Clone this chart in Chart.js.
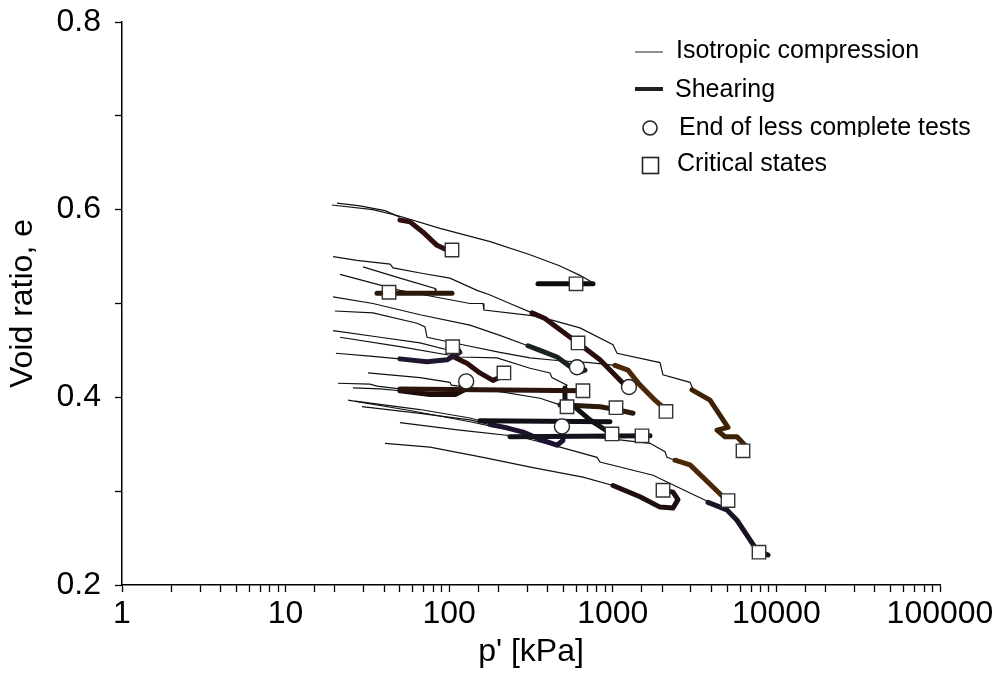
<!DOCTYPE html>
<html>
<head>
<meta charset="utf-8">
<script src="https://cdn.jsdelivr.net/npm/chart.js@4.4.1/dist/chart.umd.min.js"></script>
<style>
  html, body { margin: 0; padding: 0; background: #fff; }
  #wrap { width: 1003px; height: 677px; }
</style>
</head>
<body>
<div id="wrap"><canvas id="voidChart" width="1003" height="677"></canvas></div>
<script>
// axis ticks
const xTicksMajor = [1, 10, 100, 1000, 10000, 100000];
const yTicksLabelled = [0.2, 0.4, 0.6, 0.8];

// isotropic compression curves  [p' kPa, e]
const iso1 = [[20.6,0.607],[28.5,0.604],[40.5,0.599],[50.0,0.592]];
const iso2 = [[19.2,0.605],[34.2,0.600],[50.0,0.593],[87.8,0.580],[178,0.566],[312,0.552],[476,0.540],[630,0.530],[725,0.524],[757,0.521]];
const iso3 = [[19.5,0.550],[27.3,0.546],[43.5,0.542],[45.4,0.538],[69.2,0.532],[101,0.527],[148,0.514],[178,0.509],[235,0.500],[321,0.490]];
const iso4 = [[29.7,0.539],[50.0,0.527],[81.9,0.516],[83.0,0.511]];
const iso5 = [[21.5,0.531],[50.0,0.514],[76.3,0.508],[134,0.500],[161,0.500],[163,0.493],[321,0.487],[431,0.482],[630,0.474],[1003,0.456],[1061,0.447],[1943,0.437],[2027,0.424],[2965,0.416],[3092,0.409]];
const iso6 = [[19.5,0.507],[34.2,0.500],[66.3,0.488],[134,0.477],[204,0.466],[303,0.455]];
const iso7 = [[20.0,0.492],[34.2,0.490],[63.6,0.479],[71.1,0.475],[73.2,0.464],[121,0.456],[204,0.448],[312,0.442],[476,0.439],[725,0.437],[1031,0.434]];
const iso8 = [[19.5,0.471],[37.8,0.464],[66.3,0.458],[101,0.450],[104,0.444]];
const iso9 = [[21.5,0.464],[50.0,0.454],[116,0.443],[196,0.442],[312,0.431],[413,0.426],[425,0.421],[525,0.413],[510,0.410]];
const iso10 = [[20.3,0.447],[32.8,0.444],[50.0,0.441]];
const iso11 = [[31.9,0.426],[66.3,0.421],[101,0.416],[103,0.413],[204,0.406],[359,0.399],[476,0.392]];
const iso12 = [[20.9,0.415],[32.8,0.414],[36.2,0.412],[50.0,0.409]];
const iso13 = [[25.8,0.410],[37.8,0.409],[50.0,0.407]];
const iso14 = [[26.6,0.396],[66.3,0.387],[134,0.378],[154,0.375]];
const iso15 = [[29.3,0.390],[66.3,0.383],[134,0.376],[178,0.371]];
const iso16 = [[24.1,0.397],[57.6,0.386],[134,0.374],[235,0.365],[359,0.359],[835,0.357],[1688,0.351],[2085,0.342],[2145,0.336],[2400,0.333]];
const iso17 = [[50.0,0.373],[116,0.365],[271,0.358],[476,0.347],[801,0.336],[835,0.331],[1761,0.317],[2965,0.298],[3928,0.288]];
const iso18 = [[40.5,0.351],[76.3,0.347],[161,0.336],[325,0.325],[657,0.315],[1003,0.306]];

// shearing paths  [p' kPa, e]
const sh1 = [[50.0,0.589],[57.6,0.587],[69.2,0.576],[84.2,0.562],[97.0,0.557]];
const sh2 = [[349,0.521],[757,0.521]];
const sh3 = [[36.2,0.511],[104,0.511]];
const sh4 = [[321,0.490],[385,0.484],[476,0.472],[613,0.458],[835,0.440],[1187,0.413]];
const sh5 = [[1031,0.434],[1238,0.429],[1467,0.413],[1811,0.397],[2237,0.383]];
const sh6 = [[3049,0.408],[3928,0.397],[5061,0.368],[4335,0.365],[4851,0.358],[5743,0.358],[6428,0.349]];
const sh7 = [[2400,0.333],[2965,0.328],[4717,0.294],[5061,0.289]];
const sh8 = [[3819,0.288],[4990,0.280],[5743,0.269],[7610,0.237],[8885,0.232]];
const sh9 = [[1003,0.306],[1467,0.294],[1943,0.283],[2333,0.282],[2503,0.291],[2333,0.299],[2027,0.301]];
const sh10 = [[303,0.455],[359,0.450],[456,0.443],[547,0.433],[630,0.427],[676,0.429]];
const sh11 = [[50.0,0.441],[73.2,0.438],[97.0,0.440],[116,0.448],[109,0.456]];
const sh12 = [[104,0.444],[129,0.436],[154,0.426],[185,0.418],[213,0.423]];
const sh13 = [[50.0,0.409],[657,0.407]];
const sh14 = [[50.0,0.407],[76.3,0.403],[109,0.403],[130,0.410],[127,0.417]];
const sh15 = [[510,0.410],[510,0.397],[547,0.394],[725,0.376],[961,0.362]];
const sh16 = [[476,0.392],[835,0.390],[1046,0.387],[1329,0.383]];
const sh17 = [[154,0.375],[961,0.374]];
const sh18 = [[235,0.358],[1688,0.359]];
const sh19 = [[178,0.371],[219,0.368],[283,0.363],[374,0.354],[456,0.349],[496,0.354],[489,0.365]];

// end of less complete tests
const endPoints = [[127,0.417],[604,0.432],[1256,0.411],[489,0.369]];

// critical states
const criticalStates = [[104,0.557],[596,0.521],[42.9,0.512],[105,0.454],[216,0.426],[613,0.458],[657,0.407],[525,0.390],[1046,0.389],[2113,0.385],[989,0.361],[1508,0.359],[6250,0.343],[2027,0.301],[5060,0.290],[7830,0.235]];

const isoCurves = [iso1, iso2, iso3, iso4, iso5, iso6, iso7, iso8, iso9, iso10, iso11, iso12, iso13, iso14, iso15, iso16, iso17, iso18];
const shearPaths = [sh1, sh2, sh3, sh4, sh5, sh6, sh7, sh8, sh9, sh10, sh11, sh12, sh13, sh14, sh15, sh16, sh17, sh18, sh19];
const shearColours = ['#2e0e0e', '#0d0d0d', '#2a180a', '#2a0c0c', '#4a2808', '#3e2208', '#4a2808', '#1c1228', '#1e0e0e', '#18221f',
  '#201630', '#2a0e0e', '#2a140c', '#1e0b0b', '#121212', '#2a1a0a', '#101018', '#13131e', '#1e1230'];

const toXY = pts => pts.map(([x, y]) => ({ x: x, y: y }));
const FONT = "'Liberation Sans', Arial, sans-serif";

const datasets = [];
datasets.push({
    label: 'Critical states',
    data: toXY(criticalStates),
    showLine: false,
    pointStyle: 'rect',
    pointRadius: 9.5,
    pointBackgroundColor: '#ffffff',
    pointBorderColor: '#333',
    pointBorderWidth: 1.4,
    order: 0
});
datasets.push({
    label: 'End of less complete tests',
    data: toXY(endPoints),
    showLine: false,
    pointStyle: 'circle',
    pointRadius: 7.5,
    pointBackgroundColor: '#ffffff',
    pointBorderColor: '#222',
    pointBorderWidth: 1.4,
    order: 0
});
shearPaths.forEach((path, i) => {
    datasets.push({
        label: 'Shearing',
        data: toXY(path),
        showLine: true,
        borderColor: shearColours[i],
        borderWidth: 5,
        borderCapStyle: 'round',
        borderJoinStyle: 'round',
        pointRadius: 0,
        order: 1
    });
});
isoCurves.forEach(curve => {
    datasets.push({
        label: 'Isotropic compression',
        data: toXY(curve),
        showLine: true,
        borderColor: '#111',
        borderWidth: 1.2,
        pointRadius: 0,
        order: 2
    });
});

// legend drawn in the top right corner, like the original figure
const legendPlugin = {
    id: 'figLegend',
    afterDraw(chart) {
        const ctx = chart.ctx;
        ctx.save();
        ctx.fillStyle = '#000';
        ctx.strokeStyle = '#222';
        ctx.font = '25px ' + FONT;
        ctx.textBaseline = 'alphabetic';

        ctx.lineWidth = 1;
        ctx.beginPath(); ctx.moveTo(635, 52); ctx.lineTo(663, 52); ctx.stroke();
        ctx.fillText('Isotropic compression', 676, 58);

        ctx.lineWidth = 4;
        ctx.beginPath(); ctx.moveTo(635, 89); ctx.lineTo(663, 89); ctx.stroke();
        ctx.fillText('Shearing', 675, 97);

        ctx.lineWidth = 1.6;
        ctx.beginPath(); ctx.arc(650, 128, 7, 0, Math.PI * 2); ctx.stroke();
        ctx.save();
        ctx.beginPath(); ctx.rect(670, 100, 330, 37); ctx.clip();
        ctx.fillText('End of less complete tests', 679, 135);
        ctx.restore();

        ctx.strokeRect(642.5, 157.5, 16, 16);
        ctx.fillText('Critical states', 677, 171);
        ctx.restore();
    }
};

const ctx = document.getElementById('voidChart').getContext('2d');
const voidChart = new Chart(ctx, {
    type: 'scatter',
    data: { datasets: datasets },
    options: {
        responsive: false,
        animation: false,
        devicePixelRatio: 1,
        layout: { padding: { top: 22, right: 63, bottom: 0, left: 0 } },
        plugins: {
            legend: { display: false },
            tooltip: { enabled: false }
        },
        elements: { line: { tension: 0 } },
        scales: {
            x: {
                type: 'logarithmic',
                min: 1,
                max: 100000,
                afterFit: scale => { scale.height = 92; },
                border: { display: true, color: '#000', width: 1.5 },
                grid: { drawOnChartArea: false, drawTicks: true, tickLength: 7, tickColor: '#000', tickWidth: 1.3 },
                ticks: {
                    autoSkip: false,
                    maxRotation: 0,
                    padding: 5,
                    color: '#000',
                    font: { family: FONT, size: 32, lineHeight: 1.1 },
                    callback: v => (xTicksMajor.includes(v) ? String(v) : '')
                },
                title: {
                    display: true,
                    text: "p' [kPa]",
                    color: '#000',
                    padding: { top: 0, bottom: 7 },
                    font: { family: FONT, size: 32, lineHeight: 1.1 }
                }
            },
            y: {
                min: 0.2,
                max: 0.8,
                afterFit: scale => { scale.width = 122; },
                border: { display: true, color: '#000', width: 1.5 },
                grid: { drawOnChartArea: false, drawTicks: true, tickLength: 7, tickColor: '#000', tickWidth: 1.3 },
                ticks: {
                    stepSize: 0.1,
                    padding: 14,
                    color: '#000',
                    font: { family: FONT, size: 32, lineHeight: 0.5 },
                    callback: v => {
                        const r = Math.round(v * 10) / 10;
                        return yTicksLabelled.some(t => Math.abs(t - r) < 1e-6) ? r.toFixed(1) : '';
                    }
                },
                title: {
                    display: true,
                    text: 'Void ratio, e',
                    color: '#000',
                    padding: { top: 6, bottom: 0 },
                    font: { family: FONT, size: 32, lineHeight: 1.1 }
                }
            }
        }
    },
    plugins: [legendPlugin]
});
</script>
</body>
</html>
